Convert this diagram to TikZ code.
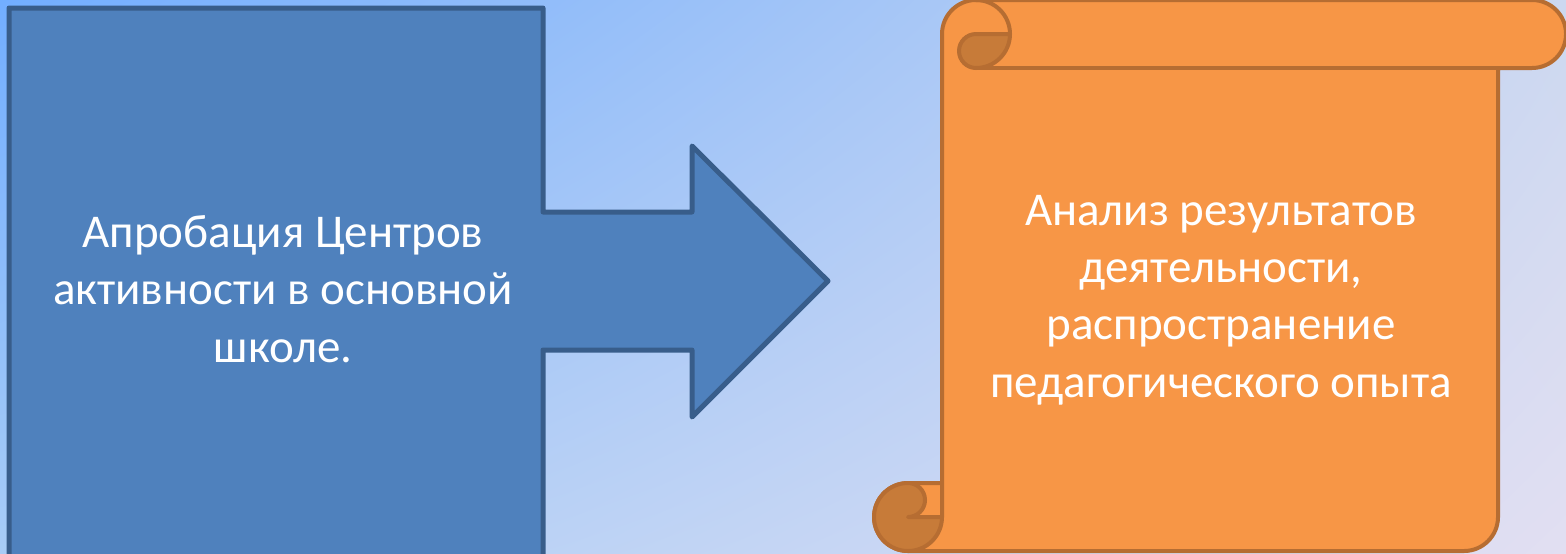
\documentclass[tikz,border=0pt]{standalone}
\usepackage{fontspec}
\setmainfont{Carlito}
\usetikzlibrary{calc,shadings}
\definecolor{boxfill}{RGB}{79,129,189}
\definecolor{boxline}{RGB}{56,93,138}
\definecolor{scrollfill}{RGB}{247,150,70}
\definecolor{scrollline}{RGB}{182,109,50}
\definecolor{curlfill}{RGB}{199,123,57}
\definecolor{bgtl}{RGB}{114,174,255}
\definecolor{bgtr}{RGB}{204,216,240}
\definecolor{bgbl}{RGB}{168,204,246}
\definecolor{bgbr}{RGB}{226,223,242}
\tikzset{
  bluebox/.style={fill=boxfill, draw=boxline, line width=2.5pt, line join=round},
  scroll/.style={fill=scrollfill, draw=scrollline, line width=2pt, line join=round},
  curl/.style={fill=curlfill, draw=scrollline, line width=2pt, line join=round},
  edge/.style={draw=scrollline, line width=2pt},
  boxtext/.style={text=white, align=center, font=\fontsize{23.5}{28.6}\selectfont},
}

\begin{document}
\begin{tikzpicture}[x=0.5pt,y=-0.5pt]
\clip (0,0) rectangle (1566,553);
\shade[upper left=bgtl, upper right=bgtr, lower left=bgbl, lower right=bgbr] (0,0) rectangle (1566,553);

% box with arrow
\draw[bluebox] (9,8) -- (543,8) -- (543,212) -- (692,212) -- (692,146) -- (828,281)
  -- (692,417) -- (692,350) -- (543,350) -- (543,570) -- (9,570) -- cycle;
\node[boxtext] (approb) at (283,289) {Апробация Центров\\активности в основной\\школе.};

% scroll
\draw[scroll] (942,517) -- (942,34) arc[start angle=180,end angle=270,radius=34] -- (1532,0)
  arc[start angle=270,end angle=450,radius=34] -- (1498,68) -- (1498,517)
  arc[start angle=0,end angle=90,radius=34] -- (908,551)
  arc[start angle=90,end angle=270,radius=34] -- (942,483) -- cycle;
\draw[edge] (976,0) arc[start angle=270,end angle=360,radius=34];
\draw[edge] (976,68) -- (1532,68);
\draw[curl] (976,34) -- (1010,34) arc[start angle=0,end angle=90,radius=34]
  arc[start angle=90,end angle=270,radius=17] -- cycle;
\draw[curl] (908,483) arc[start angle=270,end angle=90,radius=34]
  arc[start angle=90,end angle=0,radius=34] -- (908,517)
  arc[start angle=90,end angle=-90,radius=17] -- cycle;
\node[boxtext] (analysis) at (1221,300) {Анализ результатов\\деятельности,\\распространение\\педагогического опыта};
\end{tikzpicture}
\end{document}
